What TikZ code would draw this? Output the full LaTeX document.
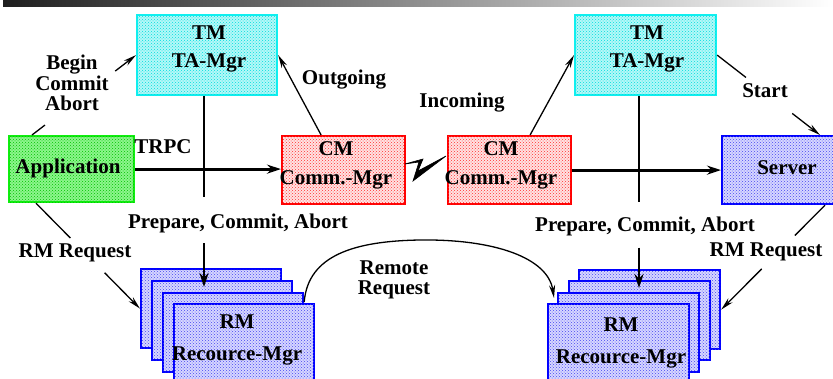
\documentclass[tikz,border=0pt]{standalone}
\usepackage{fontspec}
\setmainfont{Liberation Serif}
\usetikzlibrary{arrows.meta,calc,patterns}

\definecolor{tmfill}{HTML}{B4F8F8}
\definecolor{tmdots}{HTML}{00DCDC}
\definecolor{tmline}{HTML}{10F0F0}
\definecolor{appfill}{HTML}{8CF68C}
\definecolor{appdots}{HTML}{00C000}
\definecolor{appline}{HTML}{10EE10}
\definecolor{cmfill}{HTML}{FFE2E2}
\definecolor{cmdots}{HTML}{FF3030}
\definecolor{cmline}{HTML}{FF0000}
\definecolor{rmfill}{HTML}{D6D6FF}
\definecolor{rmdots}{HTML}{4848F0}
\definecolor{rmline}{HTML}{0000FF}

\begin{document}
\begin{tikzpicture}[x=1pt,y=-1pt,
  box/.style={draw, line width=2.2pt, inner sep=0pt, anchor=north west},
  dotted fill/.style={postaction={pattern=crosshatch dots, pattern color=#1}},
  tmbox/.style={box, draw=tmline, fill=tmfill, dotted fill=tmdots, minimum width=140pt, minimum height=80pt},
  appbox/.style={box, draw=appline, fill=appfill, dotted fill=appdots, minimum width=125pt, minimum height=66pt},
  cmbox/.style={box, draw=cmline, fill=cmfill, dotted fill=cmdots, minimum width=123pt, minimum height=68pt},
  rmbox/.style={box, draw=rmline, fill=rmfill, dotted fill=rmdots, minimum width=140pt, minimum height=79pt},
  txt/.style={font=\fontsize{21}{21}\selectfont\bfseries, inner sep=0pt, align=center},
  thickline/.style={line width=2.8pt},
  thickarrow/.style={thickline, -{Stealth[length=14pt,width=9pt]}},
  thinline/.style={line width=1.3pt},
  thinarrow/.style={thinline, -{Stealth[length=13pt,width=6pt]}}
]
\useasboundingbox (0,0) rectangle (833,378);
\clip (0,0) rectangle (833,378);

% title bar
\shade[left color=black!88, right color=white] (3,0) rectangle (833,6);

% managers and application
\node[tmbox] (tmL) at (136,14) {};
\node[tmbox, minimum width=141pt] (tmR) at (574,14) {};
\node[appbox] (app) at (8,135) {};
\node[cmbox] (cmL) at (281,135) {};
\node[cmbox] (cmR) at (447,135) {};
\node[rmbox, minimum width=125pt, minimum height=68pt] (srv) at (721,135) {};

% resource manager stacks
\node[rmbox] (rmL1) at (140,268) {};
\node[rmbox] (rmL2) at (151,280) {};
\node[rmbox] (rmL3) at (162,292) {};
\node[rmbox] (rmL4) at (173,303) {};
\node[rmbox, minimum width=141pt] (rmR1) at (578,269) {};
\node[rmbox, minimum width=141pt] (rmR2) at (568,280) {};
\node[rmbox, minimum width=141pt] (rmR3) at (557,292) {};
\node[rmbox, minimum width=141pt] (rmR4) at (547,303) {};

% box texts
\node[txt, font=\fontsize{21}{28}\selectfont\bfseries] (tmLt) at (209,49) {TM\\TA-Mgr};
\node[txt, font=\fontsize{21}{28}\selectfont\bfseries] (tmRt) at (647,49) {TM\\TA-Mgr};
\node[txt] (appt) at (68,168) {Application};
\node[txt, font=\fontsize{21}{29}\selectfont\bfseries] (cmLt) at (336,165.5) {CM\\Comm.-Mgr};
\node[txt, font=\fontsize{21}{29}\selectfont\bfseries] (cmRt) at (501,165.5) {CM\\Comm.-Mgr};
\node[txt] (srvt) at (787,168) {Server};
\node[txt, font=\fontsize{21}{32}\selectfont\bfseries] (rmLt) at (237,340) {RM\\Recource-Mgr};
\node[txt, font=\fontsize{21}{32}\selectfont\bfseries] (rmRt) at (621,343) {RM\\Recource-Mgr};

% TRPC calls
\draw[thickarrow] (app.east) -- (app.east -| cmL.west);
\draw[thickarrow] (cmR.east) -- (cmR.east -| srv.west);

% link between the communication managers
\draw[line width=0.6pt, fill=black] (405,164) -- (423,159) -- (418,171) -- (446,156)
  -- (413,181) -- (419,162) -- cycle;

% prepare / commit / abort to the resource managers
\coordinate (pL) at (204,287);
\coordinate (tL) at (tmL.south -| pL);
\draw[thickline] (tL) -- ($(tL)!0.53!(pL)$);
\draw[thickarrow] ($(tL)!0.77!(pL)$) -- (pL);
\node[txt] (pcaL) at (238,223) {Prepare, Commit, Abort};

\coordinate (pR) at (639,288);
\coordinate (tR) at (tmR.south -| pR);
\draw[thickline] (tR) -- ($(tR)!0.55!(pR)$);
\draw[thickarrow] ($(tR)!0.79!(pR)$) -- (pR);
\node[txt] (pcaR) at (645,226) {Prepare, Commit, Abort};

% begin / commit / abort
\coordinate (bA) at ([xshift=24pt]app.north west);
\draw[thinline] (bA) -- ($(bA)!0.125!(tmL.west)$);
\draw[thinarrow] ($(bA)!0.8!(tmL.west)$) -- (tmL.west);
\node[txt, font=\fontsize{21}{20.5}\selectfont\bfseries] (bca) at (72,83) {Begin\\Commit\\Abort};

% outgoing / incoming
\draw[thinarrow] ([xshift=-22.5pt]cmL.north) -- (tmL.east);
\node[txt] (outg) at (344,80) {Outgoing};
\draw[thinarrow] ([xshift=20.5pt]cmR.north) -- (tmR.west);
\node[txt] (inc) at (462,103) {Incoming};
\node[txt] (trpc) at (163,147) {TRPC};

% start
\coordinate (sB) at ([xshift=99pt]srv.north west);
\draw[thinline] (tmR.east) -- ($(tmR.east)!0.28!(sB)$);
\draw[thinarrow] ($(tmR.east)!0.73!(sB)$) -- (sB);
\node[txt] (start) at (765,91) {Start};

% RM requests
\coordinate (rA) at ([xshift=28pt]app.south west);
\draw[thinline] (rA) -- ($(rA)!0.33!(rmL1.west)$);
\draw[thinarrow] ($(rA)!0.66!(rmL1.west)$) -- (rmL1.west);
\node[txt] (rqL) at (75,253) {RM Request};

\coordinate (sA) at ([xshift=104pt]srv.south west);
\draw[thinline] (sA) -- ($(sA)!0.29!(rmR1.east)$);
\draw[thinarrow] ($(sA)!0.61!(rmR1.east)$) -- (rmR1.east);
\node[txt] (rqR) at (766,252) {RM Request};

% remote request
\draw[thinarrow] ([yshift=-10pt]rmL3.north east)
  .. controls (308,255) and (355,241) .. (420,240)
  .. controls (495,239) and (548,258) .. ([xshift=-3pt,yshift=-6pt]rmR3.north west);
\node[txt, font=\fontsize{21}{20}\selectfont\bfseries] (remote) at (394,280) {Remote\\Request};
\end{tikzpicture}
\end{document}
